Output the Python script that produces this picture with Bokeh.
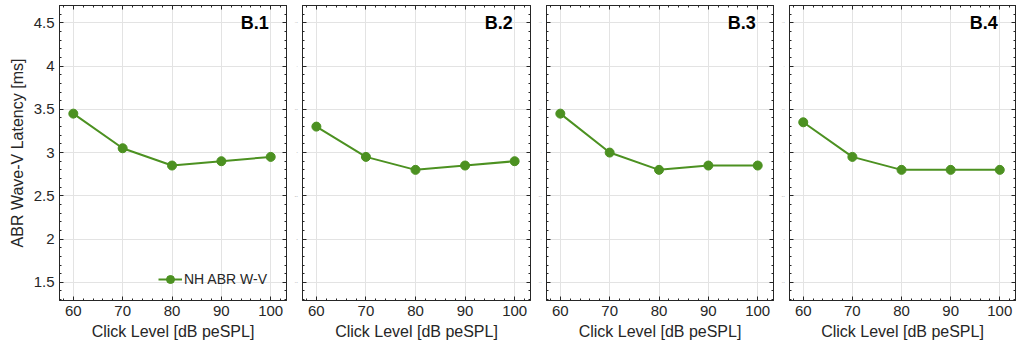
from bokeh.plotting import figure
from bokeh.layouts import row
from bokeh.models import (LinearAxis, SingleIntervalTicker, Range1d, Label, Legend, LegendItem,
                          CustomJSTickFormatter)
from bokeh.embed import file_html
from bokeh.resources import INLINE

levels = [60, 70, 80, 90, 100]
panel_titles = ["B.1", "B.2", "B.3", "B.4"]
b1 = [3.45, 3.05, 2.85, 2.90, 2.95]
b2 = [3.30, 2.95, 2.80, 2.85, 2.90]
b3 = [3.45, 3.00, 2.80, 2.85, 2.85]
b4 = [3.35, 2.95, 2.80, 2.80, 2.80]
series = [b1, b2, b3, b4]
legend_label = "NH ABR W-V"
x_label = "Click Level [dB peSPL]"
y_label = "ABR Wave-V Latency [ms]"

GREEN = "#4c9121"
DARK = "#262626"
FONT = "Liberation Sans"

frame_widths = [227, 228, 227, 226]
left_borders = [59, 12, 12, 12]
right_borders = [4, 4, 4, 1]

def style_axis(ax, mode):
    ax.axis_line_color = DARK
    ax.major_tick_line_color = DARK
    ax.minor_tick_line_color = DARK
    ax.major_tick_in = 4
    ax.major_tick_out = 0
    ax.minor_tick_in = 2
    ax.minor_tick_out = 0
    ax.major_label_text_font = FONT
    ax.major_label_text_color = DARK
    ax.axis_label_text_font = FONT
    ax.axis_label_text_font_style = "normal"
    ax.axis_label_text_color = DARK
    ax.major_label_text_font_size = "15px"
    ax.axis_label_text_font_size = "16px"
    if mode == "none":
        ax.formatter = CustomJSTickFormatter(code="return '';")
        ax.major_label_standoff = 0
    elif mode == "tiny":
        ax.major_label_text_font_size = "2px"
        ax.major_label_text_color = "#9a9a9a"
        ax.major_label_standoff = 5

figs = []
for i, (vals, title) in enumerate(zip(series, panel_titles)):
    p = figure(frame_width=frame_widths[i], frame_height=295,
               min_border_left=left_borders[i], min_border_right=right_borders[i],
               min_border_top=5, min_border_bottom=47,
               x_range=Range1d(57.2, 103.2), y_range=Range1d(1.29, 4.70),
               output_backend="svg", toolbar_location=None,
               x_axis_location=None, y_axis_location=None)
    p.outline_line_color = DARK
    p.background_fill_color = "white"
    p.border_fill_color = "white"

    xt = SingleIntervalTicker(interval=10, num_minor_ticks=5)
    yt = SingleIntervalTicker(interval=0.5, num_minor_ticks=5)

    xb = LinearAxis(ticker=xt, axis_label=x_label)
    style_axis(xb, "full")
    xb.major_label_standoff = 5
    xb.axis_label_standoff = 4
    p.add_layout(xb, "below")

    xa = LinearAxis(ticker=xt)
    style_axis(xa, "none")
    p.add_layout(xa, "above")

    yl = LinearAxis(ticker=yt)
    if i == 0:
        style_axis(yl, "full")
        yl.axis_label = y_label
        yl.major_label_standoff = 5
        yl.axis_label_standoff = 5
    else:
        style_axis(yl, "tiny")
    p.add_layout(yl, "left")

    yr = LinearAxis(ticker=yt)
    style_axis(yr, "none")
    p.add_layout(yr, "right")

    p.xgrid.ticker = xt
    p.ygrid.ticker = yt
    p.xgrid.grid_line_color = "#e3e3e3"
    p.ygrid.grid_line_color = "#e3e3e3"

    ln = p.line(levels, vals, line_color=GREEN, line_width=2)
    sc = p.scatter(levels, vals, size=9, fill_color=GREEN, line_color=GREEN)

    p.add_layout(Label(x=99.6, y=4.5, text=title, text_align="right", text_baseline="middle",
                       text_font=FONT, text_font_style="bold", text_font_size="18px",
                       text_color="black"))

    if i == 0:
        leg = Legend(items=[LegendItem(label=legend_label, renderers=[ln, sc])],
                     location=(99, 11), border_line_color=None,
                     background_fill_alpha=0, padding=0, margin=0,
                     label_text_font=FONT, label_text_font_size="14px",
                     label_text_color=DARK, glyph_width=24, label_standoff=2)
        p.add_layout(leg, "center")
    figs.append(p)

layout = row(*figs, spacing=0)
open("out.html", "w").write(file_html(layout, INLINE))
